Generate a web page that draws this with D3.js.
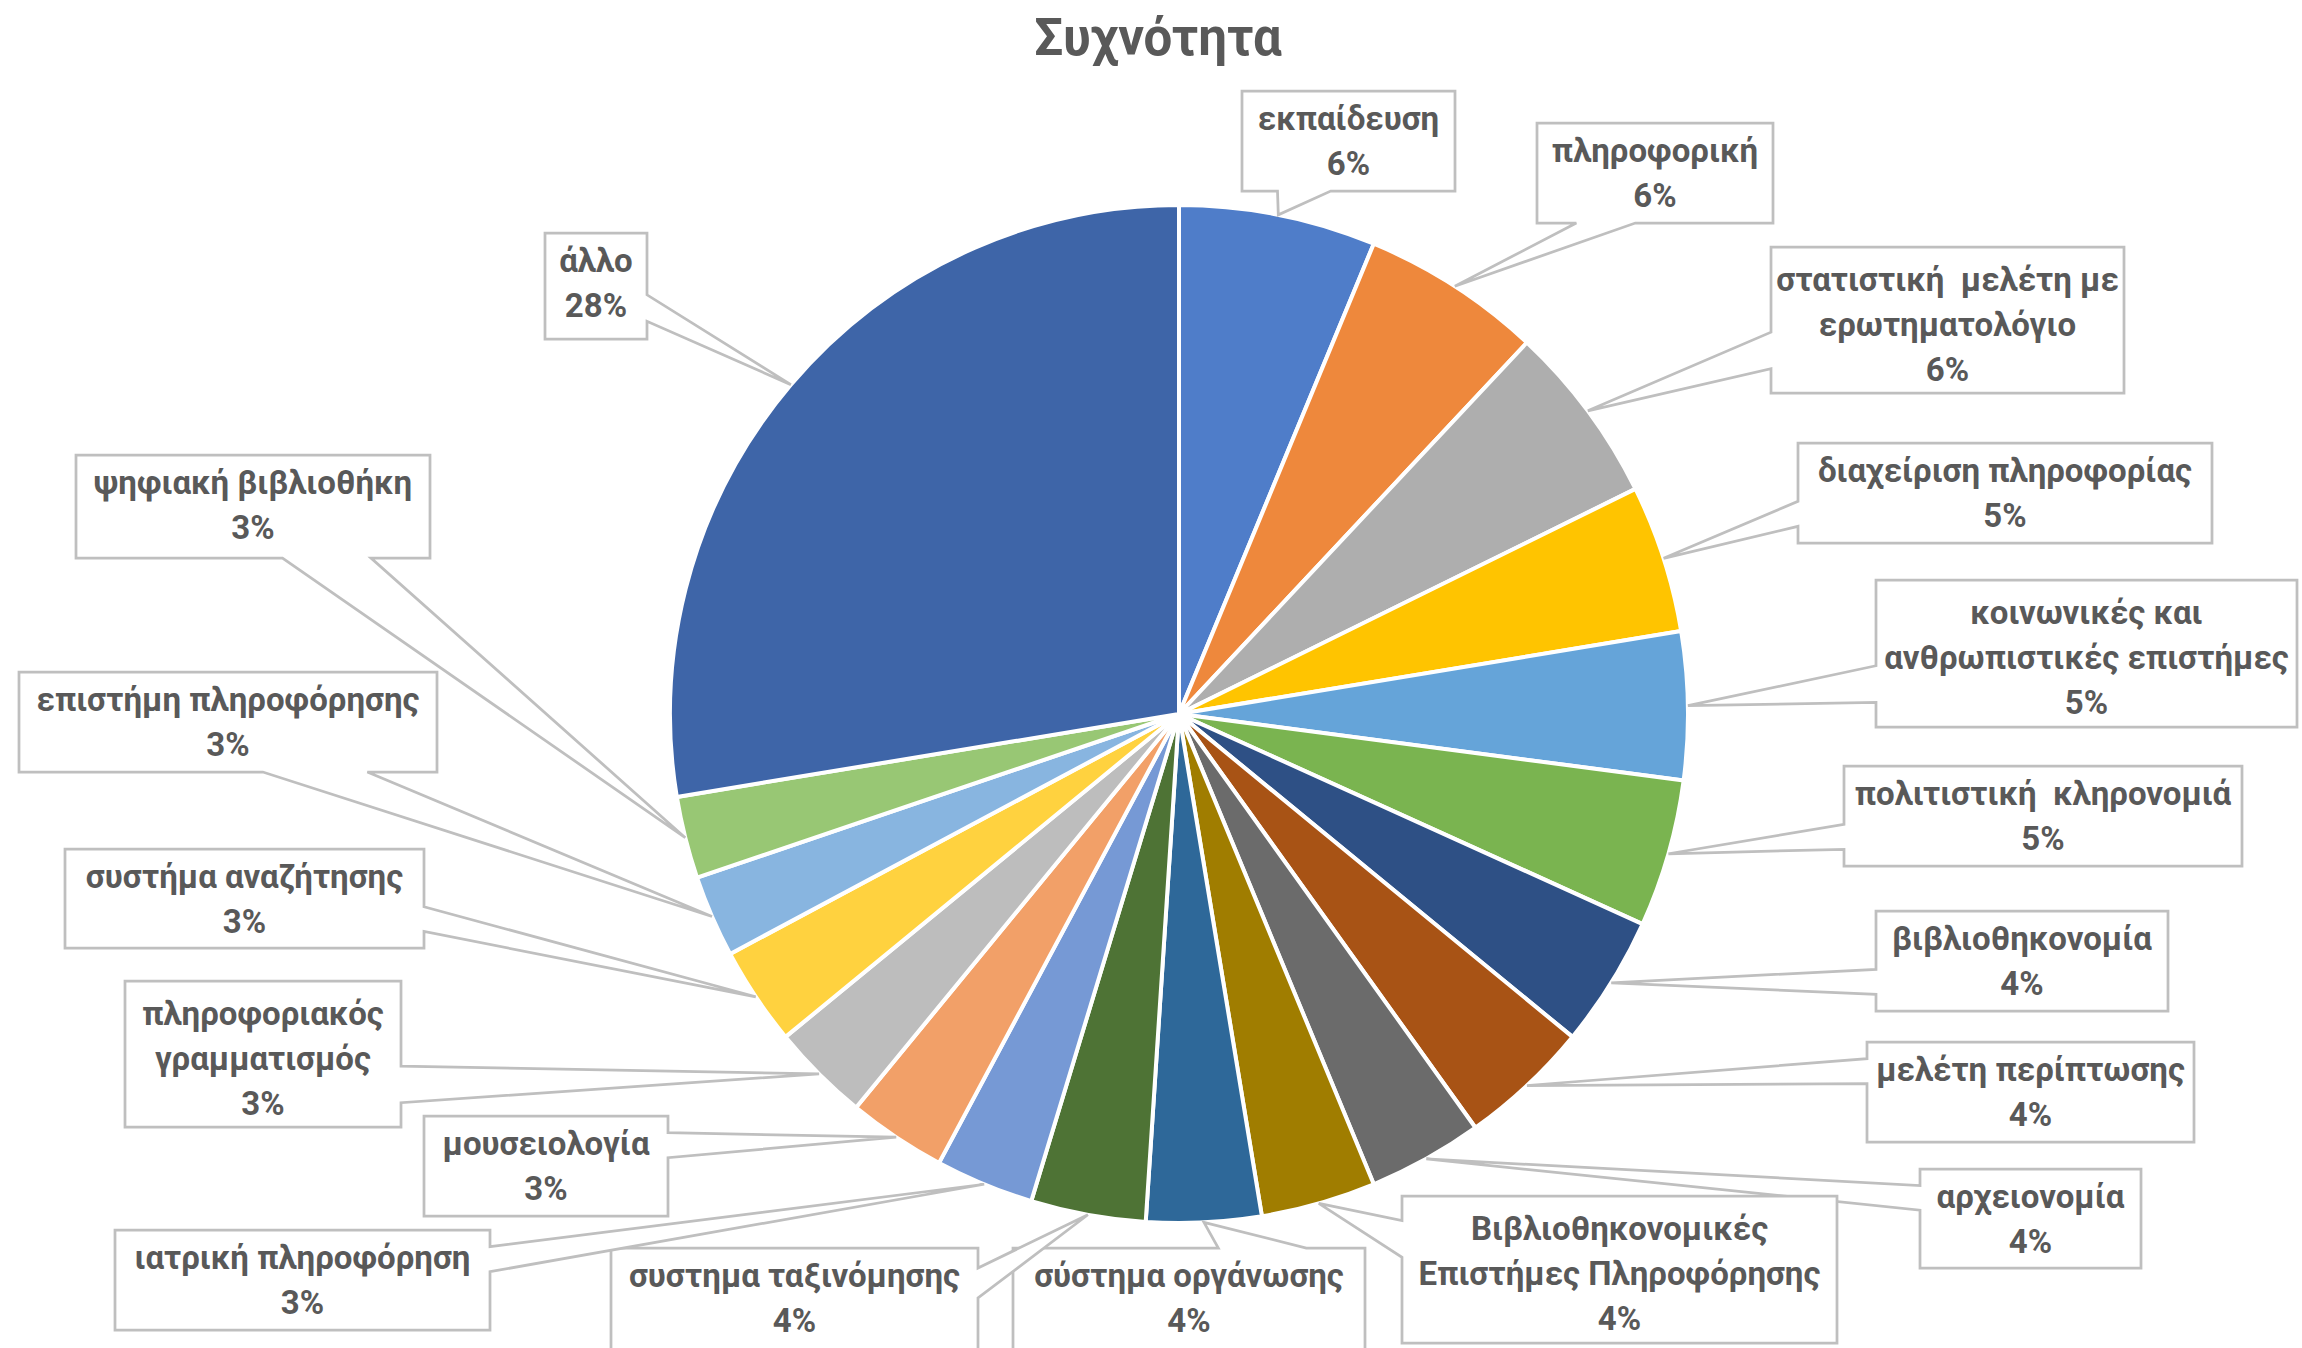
<!DOCTYPE html>
<html><head><meta charset="utf-8">
<script src="https://cdn.jsdelivr.net/npm/d3@7"></script>
<style>body{margin:0;background:#fff;} svg{display:block;}</style>
</head><body>
<svg id="chart" width="2302" height="1348"></svg>
<script>
// ---- data ----
const title = "Συχνότητα";
const categories = [
  "εκπαίδευση",
  "πληροφορική",
  "στατιστική  μελέτη με\nερωτηματολόγιο",
  "διαχείριση πληροφορίας",
  "κοινωνικές και\nανθρωπιστικές επιστήμες",
  "πολιτιστική  κληρονομιά",
  "βιβλιοθηκονομία",
  "μελέτη περίπτωσης",
  "αρχειονομία",
  "Βιβλιοθηκονομικές\nΕπιστήμες Πληροφόρησης",
  "σύστημα οργάνωσης",
  "συστημα ταξινόμησης",
  "ιατρική πληροφόρηση",
  "μουσειολογία",
  "πληροφοριακός\nγραμματισμός",
  "συστήμα αναζήτησης",
  "επιστήμη πληροφόρησης",
  "ψηφιακή βιβλιοθήκη",
  "άλλο"
];
const values = [12, 11, 11, 9, 9, 9, 8, 8, 7, 7, 7, 7, 6, 6, 6, 6, 5, 5, 53];

// ---- styling / layout ----
const colors = [
  "#4F7DC9", "#EE883C", "#AEAEAE", "#FFC400", "#65A4D9", "#7AB450",
  "#2E5085", "#A85315", "#6B6B6B", "#A07D00", "#2E6899", "#4E7335",
  "#7699D5", "#F2A068", "#BDBDBD", "#FFD23F", "#88B5E0", "#98C774",
  "#3E65A8"
];
// callout boxes [x, y, w, h]
const boxes = [
  [1242, 91, 213, 100],
  [1537, 123, 236, 100],
  [1771, 247, 353, 146],
  [1798, 443, 414, 100],
  [1876, 580, 421, 147],
  [1844, 766, 398, 100],
  [1876, 911, 292, 100],
  [1867, 1042, 327, 100],
  [1920, 1169, 221, 99],
  [1402, 1196, 435, 147],
  [1013, 1248, 352, 110],
  [611, 1248, 367, 120],
  [115, 1230, 375, 100],
  [424, 1116, 244, 100],
  [125, 981, 276, 146],
  [65, 849, 359, 99],
  [19, 672, 418, 100],
  [76, 455, 354, 103],
  [545, 233, 102, 106]
];

const W = 2302, H = 1348;
const cx = 1179, cy = 714, R = 509;
const textColor = "#595959";
const fontFam = "Roboto, 'Noto Sans', 'DejaVu Sans', sans-serif";

const svg = d3.select("#chart");
svg.append("rect").attr("width", W).attr("height", H).attr("fill", "#fff");

svg.append("text")
  .attr("x", 1158).attr("y", 55)
  .attr("text-anchor", "middle")
  .attr("font-family", fontFam)
  .attr("font-weight", 700)
  .attr("font-size", 51)
  .attr("fill", textColor)
  .text(title);

const total = d3.sum(values);
const pct = d3.format(".0%");
const pie = d3.pie().sort(null).value(d => d)(values);
const arc = d3.arc().innerRadius(0).outerRadius(R);

const g = svg.append("g").attr("transform", `translate(${cx},${cy})`);
g.selectAll("path.slice").data(pie).join("path")
  .attr("class", "slice")
  .attr("d", arc)
  .attr("fill", (d, i) => colors[i])
  .attr("stroke", "#fff")
  .attr("stroke-width", 4)
  .attr("stroke-linejoin", "round");

function calloutPath(b, tip) {
  const [x, y, w, h] = b;
  const bx = x + w / 2, by = y + h / 2;
  const dxPos = tip[0] - bx, dyPos = tip[1] - by;
  const dx = dxPos * h / w, dy = dyPos;
  const p = d3.path();
  if (Math.abs(dx) > Math.abs(dy)) {
    const y1 = y + h * (dyPos > 0 ? 7 : 2) / 12;
    const y2 = y + h * (dyPos > 0 ? 10 : 5) / 12;
    if (dxPos < 0) {
      p.moveTo(x, y); p.lineTo(x + w, y); p.lineTo(x + w, y + h); p.lineTo(x, y + h);
      p.lineTo(x, y2); p.lineTo(tip[0], tip[1]); p.lineTo(x, y1); p.closePath();
    } else {
      p.moveTo(x, y); p.lineTo(x + w, y); p.lineTo(x + w, y1); p.lineTo(tip[0], tip[1]);
      p.lineTo(x + w, y2); p.lineTo(x + w, y + h); p.lineTo(x, y + h); p.closePath();
    }
  } else {
    const x1 = x + w * (dxPos > 0 ? 7 : 2) / 12;
    const x2 = x + w * (dxPos > 0 ? 10 : 5) / 12;
    if (dyPos < 0) {
      p.moveTo(x, y); p.lineTo(x1, y); p.lineTo(tip[0], tip[1]); p.lineTo(x2, y);
      p.lineTo(x + w, y); p.lineTo(x + w, y + h); p.lineTo(x, y + h); p.closePath();
    } else {
      p.moveTo(x, y); p.lineTo(x + w, y); p.lineTo(x + w, y + h); p.lineTo(x2, y + h);
      p.lineTo(tip[0], tip[1]); p.lineTo(x1, y + h); p.lineTo(x, y + h); p.closePath();
    }
  }
  return p.toString();
}

const labels = svg.append("g");
pie.forEach((d, i) => {
  const a = (d.startAngle + d.endAngle) / 2;
  const tip = [cx + R * Math.sin(a), cy - R * Math.cos(a)];
  const b = boxes[i];
  const lg = labels.append("g");
  lg.append("path")
    .attr("d", calloutPath(b, tip))
    .attr("fill", "#fff")
    .attr("stroke", "#BFBFBF")
    .attr("stroke-width", 2.75)
    .attr("stroke-linejoin", "miter");
  const lines = categories[i].split("\n").concat([pct(d.value / total)]);
  const lh = 45;
  const bcx = b[0] + b[2] / 2;
  const visH = lines.length > 2 ? 146 : 100;
  const bcy = b[1] + Math.min(b[3], visH) / 2 + (lines.length > 2 ? 4 : 0);
  const t = lg.append("text")
    .attr("font-family", fontFam)
    .attr("font-weight", 700)
    .attr("font-size", 33)
    .attr("fill", textColor)
    .attr("text-anchor", "middle")
    .attr("xml:space", "preserve")
    .style("white-space", "pre");
  lines.forEach((ln, k) => {
    t.append("tspan")
      .attr("x", bcx)
      .attr("y", bcy + (k - (lines.length - 1) / 2) * lh)
      .attr("dy", "0.36em")
      .text(ln);
  });
});
</script>
</body></html>
